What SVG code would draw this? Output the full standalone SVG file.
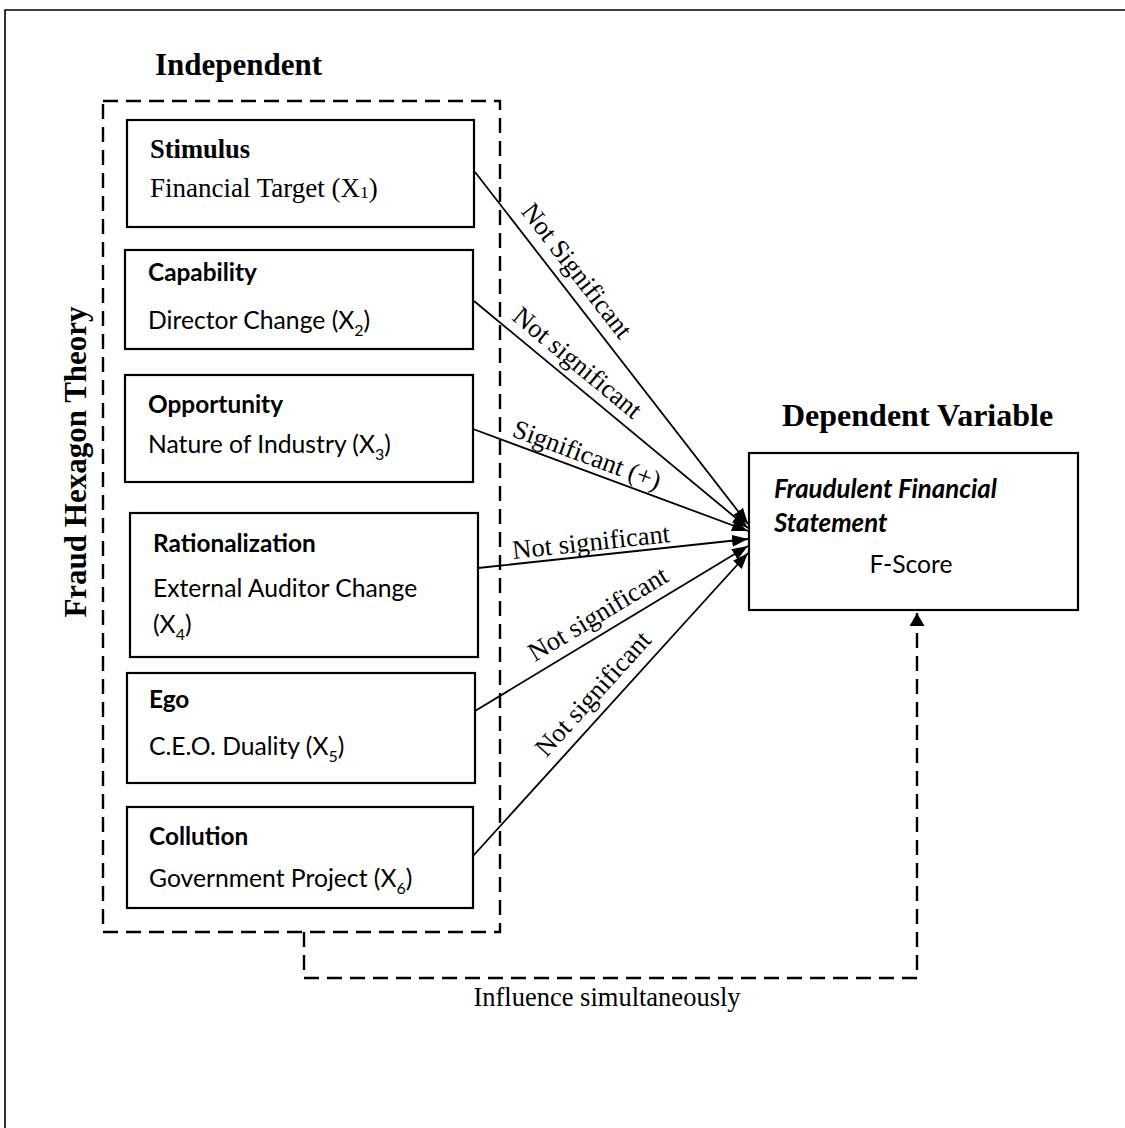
<svg xmlns="http://www.w3.org/2000/svg" width="1125" height="1128" viewBox="0 0 1125 1128">
<style>
.box{fill:#fff;stroke:#000;stroke-width:2.2}
.dash{fill:none;stroke:#000;stroke-width:2.4;stroke-dasharray:15 8}
.conn{fill:none;stroke:#000;stroke-width:1.8}
.serif{font-family:"Liberation Serif","Times New Roman",serif;fill:#000}
.sans{font-family:Lato,"Noto Sans",sans-serif;fill:#000}
.title{font-size:31px;font-weight:bold}
.lbl{font-size:26.5px}
.head{font-size:24.4px;font-weight:bold}
.body{font-size:24.7px}
.ital{font-size:25.8px;font-weight:bold;font-style:italic}
</style>
<defs>
<marker id="arr" markerUnits="userSpaceOnUse" markerWidth="17" markerHeight="13" refX="16" refY="6" orient="auto">
<path d="M0,0 L16,6 L0,12 z" fill="#000"/>
</marker>
<marker id="arr2" markerUnits="userSpaceOnUse" markerWidth="14" markerHeight="16" refX="13" refY="7.5" orient="auto">
<path d="M0,0 L13,7.5 L0,15 z" fill="#000"/>
</marker>
</defs>
<rect width="1125" height="1128" fill="#fff"/>
<path d="M5,1128 V10 H1125" fill="none" stroke="#000" stroke-width="1.6"/>

<text class="serif title" x="155" y="75">Independent</text>
<text class="serif title" x="782" y="426" style="font-size:32px">Dependent Variable</text>
<text class="serif title" transform="translate(86,462) rotate(-90)" text-anchor="middle">Fraud Hexagon Theory</text>

<g id="group-independent">
<rect class="dash" x="103" y="101" width="397" height="831"/>
</g>

<g id="node-stimulus">
<rect class="box" x="127" y="120" width="347" height="107"/>
<text class="serif" x="150" y="158" style="font-size:26.5px;font-weight:bold">Stimulus</text>
<text class="serif" x="150" y="197" style="font-size:27px">Financial Target (X<tspan font-size="17.5" dy="1">1</tspan><tspan dy="-1">)</tspan></text>
</g>

<g id="node-capability">
<rect class="box" x="125" y="250" width="348" height="99"/>
<text class="sans head" x="148" y="281">Capability</text>
<text class="sans body" x="148" y="329">Director Change (X<tspan font-size="16" dy="7">2</tspan><tspan dy="-7">)</tspan></text>
</g>

<g id="node-opportunity">
<rect class="box" x="125" y="375" width="348" height="107"/>
<text class="sans head" x="148" y="413">Opportunity</text>
<text class="sans body" x="148" y="453">Nature of Industry (X<tspan font-size="16" dy="7">3</tspan><tspan dy="-7">)</tspan></text>
</g>

<g id="node-rationalization">
<rect class="box" x="130" y="513" width="348" height="144"/>
<text class="sans head" x="153" y="552">Rationalization</text>
<text class="sans body" x="153" y="597">External Auditor Change</text>
<text class="sans body" x="153" y="633">(X<tspan font-size="16" dy="7">4</tspan><tspan dy="-7">)</tspan></text>
</g>

<g id="node-ego">
<rect class="box" x="127" y="673" width="348" height="110"/>
<text class="sans head" x="149" y="708">Ego</text>
<text class="sans body" x="149" y="755">C.E.O. Duality (X<tspan font-size="16" dy="7">5</tspan><tspan dy="-7">)</tspan></text>
</g>

<g id="node-collution">
<rect class="box" x="127" y="807" width="346" height="101"/>
<text class="sans head" x="149" y="845">Collution</text>
<text class="sans body" x="149" y="887">Government Project (X<tspan font-size="16" dy="7">6</tspan><tspan dy="-7">)</tspan></text>
</g>

<g id="node-dependent">
<rect class="box" x="749" y="453" width="329" height="157"/>
<text class="sans ital" x="774" y="498">Fraudulent Financial</text>
<text class="sans ital" x="774" y="532">Statement</text>
<text class="sans body" x="911" y="573" text-anchor="middle">F-Score</text>
</g>

<g id="connectors">
<line class="conn" x1="475" y1="172" x2="748" y2="524" marker-end="url(#arr)"/>
<line class="conn" x1="474" y1="301" x2="748" y2="528" marker-end="url(#arr)"/>
<line class="conn" x1="473" y1="429" x2="748" y2="531" marker-end="url(#arr)"/>
<line class="conn" x1="478" y1="568" x2="748" y2="539" marker-end="url(#arr)"/>
<line class="conn" x1="475" y1="711" x2="748" y2="546" marker-end="url(#arr)"/>
<line class="conn" x1="473" y1="856" x2="748" y2="553" marker-end="url(#arr)"/>
<path class="dash" d="M304,932 V978 H917 V613" marker-end="url(#arr2)"/>
<text class="serif lbl" text-anchor="middle" transform="translate(570,276) rotate(52.2)">Not Significant</text>
<text class="serif lbl" text-anchor="middle" transform="translate(572,369.5) rotate(39.6)">Not significant</text>
<text class="serif lbl" text-anchor="middle" transform="translate(584,463) rotate(20.35)">Significant (+)</text>
<text class="serif lbl" text-anchor="middle" transform="translate(592,550.5) rotate(-6.13)">Not significant</text>
<text class="serif lbl" text-anchor="middle" transform="translate(602.4,621.3) rotate(-31.1)">Not significant</text>
<text class="serif lbl" text-anchor="middle" transform="translate(599.3,699.7) rotate(-47.8)">Not significant</text>
<text class="serif lbl" x="607" y="1006" text-anchor="middle">Influence simultaneously</text>
</g>
</svg>
